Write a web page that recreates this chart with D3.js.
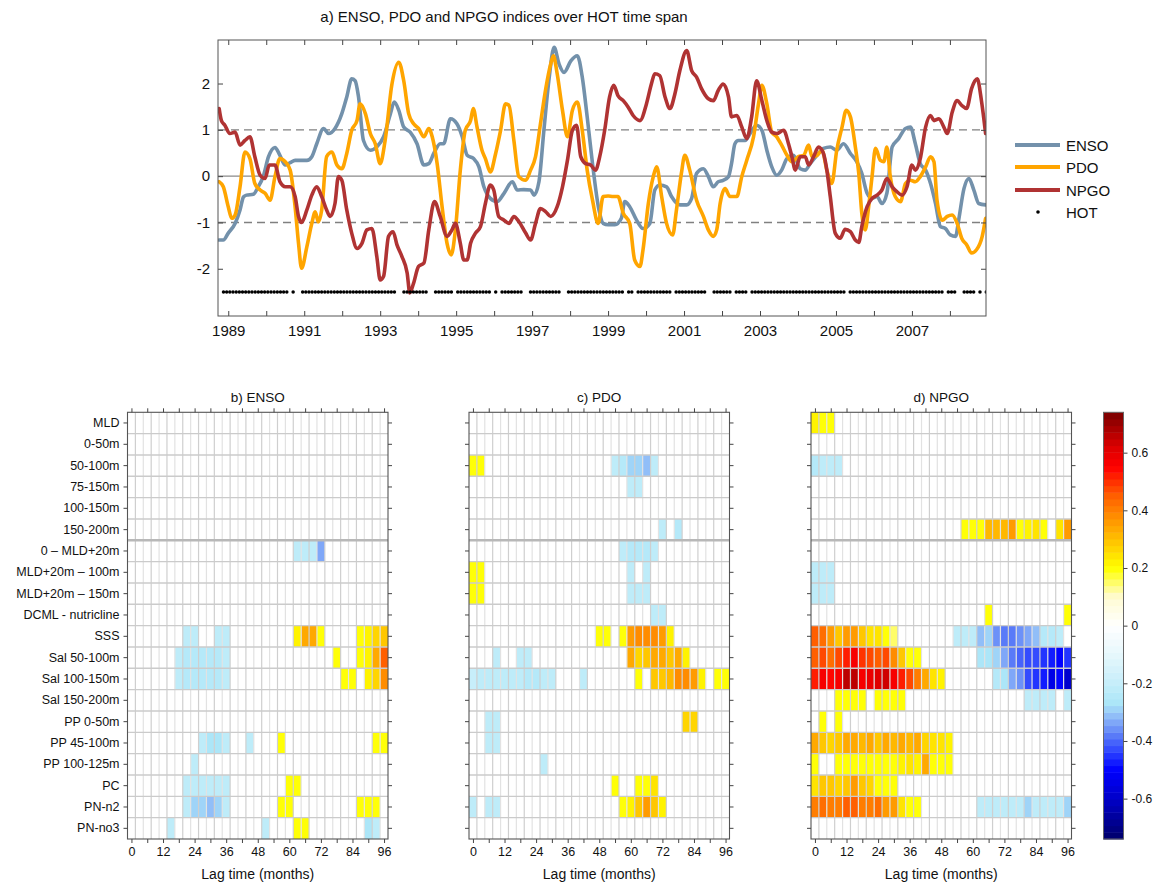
<!DOCTYPE html>
<html>
<head>
<meta charset="utf-8">
<script src="https://cdn.jsdelivr.net/npm/d3@7"></script>
<style>
  body { margin: 0; background: #fff; }
  svg { display: block; font-family: "Liberation Sans", Arial, sans-serif; }
</style>
</head>
<body>
<svg id="fig" width="1156" height="884"></svg>
<script>
// ---------------- climate indices (decimal year, index value) ----------------
const ensoYear = [1988.76,1988.87,1989.00,1989.18,1989.31,1989.40,1989.48,1989.66,1989.79,1989.92,1990.06,1990.23,1990.36,1990.50,1990.63,1990.76,1991.07,1991.20,1991.33,1991.51,1991.64,1991.81,1991.99,1992.12,1992.25,1992.34,1992.43,1992.56,1992.74,1992.91,1993.09,1993.27,1993.37,1993.49,1993.62,1993.79,1993.97,1994.15,1994.28,1994.41,1994.58,1994.67,1994.85,1995.02,1995.16,1995.29,1995.46,1995.60,1995.73,1995.90,1996.08,1996.26,1996.48,1996.61,1996.78,1996.96,1997.05,1997.18,1997.31,1997.44,1997.58,1997.71,1997.84,1998.02,1998.19,1998.32,1998.45,1998.59,1998.76,1998.87,1999.00,1999.18,1999.35,1999.44,1999.57,1999.75,1999.92,2000.10,2000.23,2000.36,2000.54,2000.67,2000.89,2001.07,2001.20,2001.33,2001.51,2001.64,2001.77,2001.90,2002.03,2002.17,2002.25,2002.34,2002.43,2002.61,2002.74,2002.91,2003.05,2003.18,2003.31,2003.44,2003.57,2003.71,2003.88,2004.06,2004.19,2004.32,2004.50,2004.67,2004.85,2005.02,2005.20,2005.38,2005.55,2005.68,2005.82,2005.95,2006.08,2006.21,2006.34,2006.48,2006.65,2006.83,2006.96,2007.09,2007.22,2007.36,2007.49,2007.62,2007.75,2007.88,2008.01,2008.15,2008.23,2008.37,2008.50,2008.63,2008.76,2008.94];
const ensoValue = [-1.38,-1.38,-1.23,-1.02,-0.73,-0.45,-0.41,-0.39,-0.23,-0.01,0.42,0.62,0.45,0.24,0.29,0.34,0.34,0.42,0.70,1.03,0.92,1.03,1.35,1.71,2.10,2.06,1.71,0.77,0.56,0.63,0.85,1.35,1.60,1.42,1.06,0.95,0.70,0.24,0.27,0.49,0.70,0.70,1.24,1.13,0.85,0.45,0.38,0.20,-0.23,-0.48,-0.55,-0.37,-0.12,-0.30,-0.29,-0.30,-0.41,-0.12,0.99,2.06,2.78,2.42,2.24,2.49,2.60,2.14,1.28,0.27,-0.73,-1.02,-1.05,-1.05,-0.91,-0.55,-0.66,-0.95,-1.13,-1.02,-0.30,-0.19,-0.23,-0.44,-0.62,-0.62,-0.48,0.06,0.16,-0.01,-0.23,-0.12,-0.09,-0.01,0.27,0.70,0.77,0.77,0.92,1.10,0.99,0.56,0.20,0.02,0.13,0.38,0.45,0.16,0.13,0.27,0.45,0.60,0.63,0.56,0.70,0.49,0.31,0.06,-0.37,-0.48,-0.44,-0.59,-0.37,0.63,0.81,1.03,1.06,0.70,0.27,0.13,-0.16,-0.59,-1.09,-1.13,-1.27,-1.30,-0.95,-0.27,-0.05,-0.30,-0.59,-0.62];

const pdoYear = [1988.76,1988.87,1989.00,1989.09,1989.18,1989.31,1989.44,1989.57,1989.70,1989.84,1989.97,1990.10,1990.23,1990.36,1990.50,1990.63,1990.76,1990.85,1990.93,1991.07,1991.20,1991.29,1991.37,1991.46,1991.59,1991.73,1991.86,1991.99,1992.12,1992.25,1992.39,1992.47,1992.61,1992.74,1992.87,1993.00,1993.13,1993.31,1993.49,1993.62,1993.75,1993.88,1994.01,1994.15,1994.28,1994.37,1994.50,1994.63,1994.76,1994.87,1994.98,1995.11,1995.24,1995.38,1995.45,1995.55,1995.68,1995.77,1995.90,1996.04,1996.17,1996.30,1996.39,1996.52,1996.65,1996.83,1996.96,1997.09,1997.22,1997.36,1997.49,1997.56,1997.66,1997.80,1997.93,1998.06,1998.19,1998.32,1998.45,1998.59,1998.74,1998.87,1999.00,1999.13,1999.26,1999.40,1999.57,1999.70,1999.84,1999.92,2000.06,2000.19,2000.28,2000.41,2000.54,2000.70,2000.80,2000.93,2001.02,2001.15,2001.33,2001.51,2001.64,2001.77,2001.86,2001.95,2002.08,2002.21,2002.39,2002.52,2002.65,2002.83,2002.96,2003.05,2003.18,2003.31,2003.44,2003.57,2003.71,2003.84,2004.01,2004.15,2004.28,2004.37,2004.50,2004.63,2004.76,2004.89,2005.02,2005.16,2005.27,2005.38,2005.51,2005.60,2005.68,2005.77,2005.86,2005.95,2006.04,2006.17,2006.26,2006.34,2006.43,2006.56,2006.70,2006.83,2006.96,2007.09,2007.22,2007.36,2007.49,2007.58,2007.66,2007.80,2007.93,2008.06,2008.19,2008.31,2008.44,2008.57,2008.70,2008.85,2008.94];
const pdoValue = [-0.12,-0.23,-0.66,-0.91,-0.84,-0.23,0.52,0.38,-0.16,-0.30,-0.37,-0.52,-0.01,0.38,0.31,0.13,-0.66,-1.45,-1.99,-1.52,-1.02,-0.77,-0.99,-0.73,0.42,0.52,0.24,0.16,0.49,0.99,1.20,1.56,1.35,0.92,0.70,0.27,0.77,1.99,2.46,2.06,1.35,1.13,1.03,0.85,1.03,0.85,0.27,-0.66,-1.45,-1.70,-1.16,0.13,0.99,1.20,1.46,1.06,0.56,0.38,0.09,0.49,0.99,1.56,1.53,0.77,-0.01,-0.09,0.13,0.42,1.13,1.89,2.42,2.60,2.21,1.42,0.85,1.42,1.60,0.99,0.13,-0.52,-1.02,-0.44,-0.43,-0.44,-0.44,-0.80,-1.02,-1.81,-1.95,-1.59,-0.59,-0.01,0.20,-0.44,-1.02,-1.27,-0.73,0.06,0.45,0.13,-0.52,-0.87,-1.16,-1.30,-1.16,-0.59,-0.27,-0.44,-0.44,-0.01,0.34,0.85,1.56,1.96,1.56,0.95,0.85,0.67,0.45,0.31,0.42,0.45,0.67,0.42,0.45,0.56,0.13,-0.16,0.56,1.06,1.42,1.28,0.63,0.06,-0.80,-1.16,-0.66,-0.01,0.60,0.34,0.31,0.63,-0.01,-0.44,-0.55,-0.16,-0.09,-0.12,-0.01,0.20,0.42,0.31,-0.52,-0.95,-0.87,-0.84,-1.02,-1.34,-1.48,-1.66,-1.59,-1.30,-0.91];

const npgoYear = [1988.76,1988.82,1988.91,1989.04,1989.18,1989.31,1989.44,1989.57,1989.70,1989.84,1989.97,1990.08,1990.23,1990.36,1990.50,1990.63,1990.76,1990.85,1990.93,1991.07,1991.20,1991.33,1991.46,1991.59,1991.68,1991.81,1991.90,1991.99,1992.12,1992.25,1992.39,1992.52,1992.65,1992.78,1992.91,1993.00,1993.09,1993.22,1993.34,1993.44,1993.57,1993.71,1993.78,1993.88,1994.01,1994.15,1994.28,1994.43,1994.58,1994.76,1994.89,1994.98,1995.11,1995.20,1995.29,1995.38,1995.51,1995.64,1995.77,1995.90,1995.99,1996.12,1996.26,1996.39,1996.52,1996.65,1996.83,1996.96,1997.09,1997.22,1997.36,1997.49,1997.66,1997.80,1997.93,1998.06,1998.17,1998.28,1998.41,1998.54,1998.67,1998.78,1998.91,1999.04,1999.15,1999.26,1999.40,1999.53,1999.66,1999.84,2000.01,2000.14,2000.23,2000.36,2000.50,2000.63,2000.76,2000.89,2001.07,2001.20,2001.33,2001.46,2001.64,2001.77,2001.90,2002.03,2002.17,2002.25,2002.39,2002.52,2002.65,2002.78,2002.91,2003.05,2003.18,2003.31,2003.44,2003.62,2003.75,2003.84,2003.93,2004.06,2004.19,2004.28,2004.41,2004.54,2004.67,2004.76,2004.85,2004.98,2005.11,2005.24,2005.38,2005.51,2005.60,2005.68,2005.82,2005.95,2006.08,2006.21,2006.34,2006.48,2006.61,2006.74,2006.87,2007.00,2007.09,2007.22,2007.36,2007.49,2007.58,2007.71,2007.84,2007.93,2008.06,2008.19,2008.31,2008.44,2008.57,2008.72,2008.83,2008.94];
const npgoValue = [1.46,1.20,1.10,0.92,0.95,0.67,0.77,0.85,0.42,0.02,-0.05,0.24,0.24,-0.12,-0.23,-0.23,-0.44,-0.87,-1.00,-0.73,-0.41,-0.23,-0.44,-0.73,-0.87,-0.59,-0.01,-0.09,-0.73,-1.23,-1.56,-1.45,-1.16,-1.13,-1.73,-2.24,-2.16,-1.30,-1.20,-1.48,-1.73,-2.09,-2.52,-2.31,-1.95,-1.88,-1.16,-0.55,-0.87,-1.30,-1.16,-1.02,-1.45,-1.81,-1.81,-1.45,-1.23,-1.09,-0.59,-0.19,-0.30,-0.87,-0.95,-1.02,-0.87,-0.98,-1.23,-1.38,-1.02,-0.70,-0.77,-0.87,-0.66,-0.23,0.34,0.99,1.10,0.42,0.27,0.24,0.13,0.42,0.99,1.71,1.96,1.74,1.63,1.49,1.31,1.20,1.56,1.99,2.21,2.17,1.71,1.46,1.78,2.28,2.71,2.28,2.14,1.89,1.67,1.63,1.85,1.99,1.71,1.28,1.31,1.06,0.81,1.28,2.06,1.63,1.20,0.95,0.92,0.99,0.70,0.42,0.13,0.42,0.42,0.24,0.42,0.63,0.49,0.13,-0.44,-1.23,-1.34,-1.15,-1.20,-1.38,-1.43,-1.09,-0.66,-0.48,-0.41,-0.30,-0.05,-0.23,-0.34,-0.41,-0.23,0.24,0.13,0.38,1.06,1.31,1.20,1.24,1.06,0.92,1.38,1.63,1.53,1.46,1.89,2.10,1.63,0.92];

// HOT cruise months, as runs of consecutive monthly cruises [first, last]
const hotRuns = [
  ["1988-11","1989-03"],["1989-04","1989-11"],["1989-12","1990-07"],["1990-09","1990-09"],
  ["1990-12","1990-12"],["1991-01","1991-10"],["1991-11","1992-04"],["1992-05","1993-02"],
  ["1993-03","1993-05"],["1993-08","1993-10"],["1993-11","1994-03"],["1994-06","1994-11"],
  ["1995-01","1995-05"],["1995-06","1995-11"],["1996-01","1996-01"],["1996-03","1996-08"],
  ["1996-09","1996-09"],["1996-12","1997-09"],["1997-12","1999-05"],["1999-07","1999-08"],
  ["1999-10","2000-01"],["2000-02","2000-08"],["2000-10","2001-07"],["2001-10","2002-03"],
  ["2002-05","2002-07"],["2002-08","2002-08"],["2002-10","2003-09"],["2003-10","2005-01"],
  ["2005-02","2005-03"],["2005-05","2007-01"],["2007-02","2007-04"],["2007-05","2007-10"],
  ["2007-12","2008-02"],["2008-05","2008-08"],["2008-10","2008-10"],["2008-12","2008-12"]
];
const hotLevel = -2.5;

const seriesNames = ["ENSO", "PDO", "NPGO"];
const seriesColors = ["#7391ab", "#ffa500", "#b03333"];

// ---------------- lagged correlation maps ----------------
const lagMonths = [0,3,6,9,12,15,18,21,24,27,30,33,36,39,42,45,48,51,54,57,60,63,66,69,72,75,78,81,84,87,90,93,96];
const lagTicks = [0,6,12,18,24,30,36,42,48,54,60,66,72,78,84,90,96];
const rowLabels = ["MLD","0-50m","50-100m","75-150m","100-150m","150-200m","0 \u2013 MLD+20m","MLD+20m \u2013 100m","MLD+20m \u2013 150m","DCML - nutricline","SSS","Sal 50-100m","Sal 100-150m","Sal 150-200m","PP 0-50m","PP 45-100m","PP 100-125m","PC","PN-n2","PN-no3"];

// significant correlations as runs: [row index, first lag index, [r, r, ...]]
const ensoCorr = [
  [6,21,[-0.22,-0.22,-0.22,-0.33]],
  [10,7,[-0.21,-0.21]],[10,11,[-0.21,-0.21]],[10,21,[0.21,0.33,0.33,0.2]],[10,29,[0.2,0.21,0.27,0.29]],
  [11,6,[-0.22,-0.24,-0.24,-0.24,-0.24,-0.24,-0.22]],[11,26,[0.2]],[11,29,[0.2,0.21,0.33,0.45]],
  [12,6,[-0.22,-0.24,-0.24,-0.24,-0.24,-0.24,-0.22]],[12,27,[0.2,0.2]],[12,30,[0.21,0.27,0.38]],
  [15,9,[-0.22,-0.26,-0.26,-0.22]],[15,15,[-0.22]],[15,19,[0.2]],[15,31,[0.2,0.2]],
  [16,8,[-0.22]],
  [17,7,[-0.22,-0.23,-0.23,-0.23,-0.23,-0.22]],[17,20,[0.2,0.2]],
  [18,7,[-0.22,-0.28,-0.29,-0.31,-0.28,-0.22]],[18,19,[0.2,0.2]],[18,29,[0.2,0.2,0.2]],
  [19,5,[-0.22]],[19,17,[-0.23]],[19,21,[0.2,0.2]],[19,30,[-0.26,-0.22]]
];
const pdoCorr = [
  [2,0,[0.2,0.2]],[2,18,[-0.23,-0.25,-0.29,-0.29,-0.32,-0.22]],
  [3,20,[-0.22,-0.22]],
  [5,24,[-0.22]],[5,26,[-0.24]],
  [6,19,[-0.21,-0.24,-0.25,-0.25,-0.23]],
  [7,0,[0.2,0.2]],[7,20,[-0.22]],[7,22,[-0.22]],
  [8,0,[0.2,0.2]],[8,20,[-0.22,-0.22,-0.22]],
  [9,23,[-0.22,-0.22]],
  [10,16,[0.2,0.2]],[10,19,[0.2,0.37,0.38,0.39,0.39,0.35,0.21]],
  [11,3,[-0.22]],[11,6,[-0.22,-0.22]],[11,20,[0.33,0.27,0.3,0.34,0.34,0.3,0.33,0.23]],
  [12,0,[-0.2,-0.22,-0.22,-0.23,-0.23,-0.23,-0.23,-0.25,-0.25,-0.23,-0.22]],[12,14,[-0.23]],[12,21,[0.2]],
  [12,23,[0.3,0.3,0.32,0.38,0.38,0.35,0.21]],[12,31,[0.2,0.2]],
  [14,2,[-0.22,-0.22]],[14,27,[0.26,0.26]],
  [15,2,[-0.22,-0.22]],
  [16,9,[-0.22]],
  [17,18,[0.2]],[17,21,[0.2,0.2,0.24]],
  [18,0,[-0.22]],[18,2,[-0.22,-0.22]],[18,19,[0.2,0.21,0.3,0.37,0.3,0.21]]
];
const npgoCorr = [
  [0,0,[0.23,0.19,0.19]],
  [2,0,[-0.24,-0.22,-0.22,-0.22]],
  [5,19,[0.2,0.2,0.2,0.32,0.32,0.32,0.35,0.2,0.21,0.24,0.2]],[5,31,[0.25,0.35]],
  [7,0,[-0.22,-0.22,-0.22]],
  [8,0,[-0.22,-0.22,-0.22]],
  [9,22,[0.2]],[9,32,[0.2]],
  [10,0,[0.44,0.42,0.35,0.3,0.37,0.37,0.3,0.24,0.24,0.2,0.16]],
  [10,18,[-0.22,-0.22,-0.22,-0.32,-0.3,-0.36,-0.39,-0.39,-0.37,-0.34,-0.32,-0.24,-0.24,-0.22]],
  [11,0,[0.44,0.47,0.42,0.47,0.53,0.56,0.5,0.48,0.44,0.47,0.38,0.28,0.2,0.19]],
  [11,21,[-0.26,-0.27,-0.3,-0.34,-0.38,-0.4,-0.43,-0.43,-0.45,-0.47,-0.5,-0.45]],
  [12,0,[0.52,0.56,0.54,0.56,0.65,0.65,0.56,0.6,0.61,0.63,0.56,0.52,0.47,0.4,0.34,0.25,0.22]],
  [12,23,[-0.24,-0.26,-0.33,-0.35,-0.42,-0.44,-0.48,-0.55,-0.5,-0.58]],
  [13,3,[0.2,0.2,0.2,0.2]],[13,8,[0.2,0.2,0.2,0.2]],[13,27,[-0.23,-0.23,-0.23,-0.23]],[13,32,[-0.23]],
  [14,1,[0.2]],[14,3,[0.2]],
  [15,0,[0.34,0.3,0.27,0.3,0.34,0.34,0.32,0.34,0.3,0.34,0.32,0.34,0.32,0.34,0.27,0.24,0.24,0.22]],
  [16,0,[0.2]],[16,3,[0.2,0.2,0.2,0.2,0.2,0.2,0.2,0.2,0.22,0.25,0.22,0.33,0.2,0.2,0.2]],
  [17,0,[0.24,0.29,0.29,0.27,0.29,0.35,0.29,0.27,0.2,0.2,0.19]],
  [18,0,[0.4,0.42,0.4,0.4,0.44,0.44,0.4,0.4,0.42,0.35,0.37,0.24,0.2,0.2]],
  [18,21,[-0.22,-0.22,-0.22,-0.22,-0.22,-0.22,-0.28,-0.22,-0.22,-0.22,-0.22,-0.3]]
];

// colour map
const colorStops  = [-0.74,-0.6,-0.5,-0.44,-0.38,-0.32,-0.27,-0.2,-0.1,0,0.1,0.2,0.3,0.4,0.45,0.5,0.55,0.62,0.74];
const colorValues = ["#00006a","#0000c8","#0000ff","#2a40ff","#5a7cf8","#8cb6f8","#aae6f8","#c6eefa","#e6f7fc","#ffffff","#fffbd2","#ffff00","#ffc000","#ff8000","#ff6000","#ff3000","#ff0000","#dc0000","#7a0000"];
const colorTicks = [-0.6,-0.4,-0.2,0,0.2,0.4,0.6];
const colorLimit = 0.74;
const colorLevels = 64;

// ---------------- drawing ----------------
const svg = d3.select("#fig");
const FONT = "'Liberation Sans', Arial, sans-serif";

const cmapCont = d3.scaleLinear().domain(colorStops).range(colorValues).clamp(true);
const levelStep = 2 * colorLimit / colorLevels;
function levelColor(v) {
  let k = Math.floor((v + colorLimit) / levelStep);
  k = Math.max(0, Math.min(colorLevels - 1, k));
  return cmapCont(-colorLimit + (k + 0.5) * levelStep);
}

// ===== panel a: index time series =====
const A = { left: 218, right: 986, top: 40, bottom: 316 };
const xA = d3.scaleLinear().domain([1988.73, 2008.95]).range([A.left, A.right]);
const yA = d3.scaleLinear().domain([-3.02, 2.94]).range([A.bottom, A.top]);

svg.append("defs").append("clipPath").attr("id", "clipA")
  .append("rect").attr("x", A.left).attr("y", A.top)
  .attr("width", A.right - A.left).attr("height", A.bottom - A.top);

const gA = svg.append("g");
gA.append("text").attr("x", 504).attr("y", 22).attr("text-anchor", "middle")
  .attr("font-size", 15).attr("fill", "#111")
  .text("a) ENSO, PDO and NPGO indices over HOT time span");

// reference lines
gA.append("line").attr("x1", A.left).attr("x2", A.right)
  .attr("y1", yA(0)).attr("y2", yA(0)).attr("stroke", "#8a8a8a").attr("stroke-width", 1.4);
[-1, 1].forEach(v => {
  gA.append("line").attr("x1", A.left).attr("x2", A.right)
    .attr("y1", yA(v)).attr("y2", yA(v)).attr("stroke", "#808080")
    .attr("stroke-width", 1.4).attr("stroke-dasharray", "8,5");
});

// index curves
const seriesData = [
  ensoYear.map((t, i) => [t, ensoValue[i]]),
  pdoYear.map((t, i) => [t, pdoValue[i]]),
  npgoYear.map((t, i) => [t, npgoValue[i]])
];
const lineA = d3.line().x(d => xA(d[0])).y(d => yA(d[1])).curve(d3.curveMonotoneX);
const gLines = gA.append("g").attr("clip-path", "url(#clipA)");
seriesData.forEach((s, i) => {
  gLines.append("path").datum(s).attr("d", lineA).attr("fill", "none")
    .attr("stroke", seriesColors[i]).attr("stroke-width", 3.6)
    .attr("stroke-linejoin", "round").attr("stroke-linecap", "round");
});

// HOT cruises
const hotTimes = [];
hotRuns.forEach(([a, b]) => {
  const [ya, ma] = a.split("-").map(Number);
  const [yb, mb] = b.split("-").map(Number);
  for (let m = ya * 12 + ma - 1; m <= yb * 12 + mb - 1; m++) {
    hotTimes.push(Math.floor(m / 12) + ((m % 12) + 0.5) / 12);
  }
});
gLines.append("g").selectAll("circle").data(hotTimes).join("circle")
  .attr("cx", d => xA(d)).attr("cy", yA(hotLevel)).attr("r", 1.75).attr("fill", "#000");

// axes
const years = d3.range(1989, 2009);
function styleAxis(g) {
  g.select(".domain").remove();
  g.selectAll(".tick line").attr("stroke", "#444");
  g.selectAll(".tick text").attr("fill", "#111").attr("font-family", FONT);
}
gA.append("g").attr("transform", `translate(0,${A.bottom})`)
  .call(d3.axisBottom(xA).tickValues(years).tickSize(-5).tickPadding(9)
    .tickFormat(d => (d % 2 === 1 ? String(d) : "")))
  .call(styleAxis).selectAll("text").attr("font-size", 15);
gA.append("g").attr("transform", `translate(0,${A.top})`)
  .call(d3.axisTop(xA).tickValues(years).tickSize(-5).tickFormat(""))
  .call(styleAxis);
gA.append("g").attr("transform", `translate(${A.left},0)`)
  .call(d3.axisLeft(yA).tickValues([-2, -1, 0, 1, 2]).tickSize(-5).tickPadding(8)
    .tickFormat(d => String(d)))
  .call(styleAxis).selectAll("text").attr("font-size", 15);
gA.append("g").attr("transform", `translate(${A.right},0)`)
  .call(d3.axisRight(yA).tickValues([-2, -1, 0, 1, 2]).tickSize(-5).tickFormat(""))
  .call(styleAxis);
gA.append("rect").attr("x", A.left).attr("y", A.top)
  .attr("width", A.right - A.left).attr("height", A.bottom - A.top)
  .attr("fill", "none").attr("stroke", "#555").attr("stroke-width", 1);

// legend
const legendY = [145, 167, 190];
seriesNames.forEach((name, i) => {
  gA.append("line").attr("x1", 1015).attr("x2", 1060)
    .attr("y1", legendY[i]).attr("y2", legendY[i])
    .attr("stroke", seriesColors[i]).attr("stroke-width", 4);
  gA.append("text").attr("x", 1066).attr("y", legendY[i] + 5.5)
    .attr("font-size", 15).attr("fill", "#111").text(name);
});
gA.append("circle").attr("cx", 1038).attr("cy", 212).attr("r", 1.8).attr("fill", "#000");
gA.append("text").attr("x", 1066).attr("y", 217.5).attr("font-size", 15).attr("fill", "#111").text("HOT");

// ===== panels b-d: lagged correlation maps =====
const H = { top: 412.3, bottom: 839, width: 260.5 };
const yRow = d3.scaleBand().domain(rowLabels).range([H.top, H.bottom]);
const panels = [
  { title: "b) ENSO", left: 127.5, data: ensoCorr, labels: true },
  { title: "c) PDO",  left: 469,   data: pdoCorr,  labels: false },
  { title: "d) NPGO", left: 811,   data: npgoCorr, labels: false }
];

panels.forEach(p => {
  const xL = d3.scaleLinear().domain([-1.5, 97.5]).range([p.left, p.left + H.width]);
  const g = svg.append("g");

  // cells
  const cells = [];
  p.data.forEach(([r, c0, vals]) => vals.forEach((v, i) => cells.push({ row: rowLabels[r], lag: lagMonths[c0 + i], r: v })));
  g.append("g").selectAll("rect").data(cells).join("rect")
    .attr("x", d => xL(d.lag - 1.5)).attr("y", d => yRow(d.row))
    .attr("width", d => xL(d.lag + 1.5) - xL(d.lag - 1.5)).attr("height", yRow.bandwidth())
    .attr("fill", d => levelColor(d.r));

  // grid
  lagMonths.slice(1).forEach((lag, i) => {
    g.append("line").attr("x1", xL(lag - 1.5)).attr("x2", xL(lag - 1.5))
      .attr("y1", H.top).attr("y2", H.bottom)
      .attr("stroke", i % 2 === 0 ? "#cfcfcf" : "#e2e2e2").attr("stroke-width", 1.2);
  });
  rowLabels.slice(1).forEach((lab, i) => {
    const thick = (i === 5);
    g.append("line").attr("x1", p.left).attr("x2", p.left + H.width)
      .attr("y1", yRow(lab)).attr("y2", yRow(lab))
      .attr("stroke", thick ? "#b8b8b8" : "#cbcbcb").attr("stroke-width", thick ? 2.6 : 1.4);
  });
  g.append("rect").attr("x", p.left).attr("y", H.top)
    .attr("width", H.width).attr("height", H.bottom - H.top)
    .attr("fill", "none").attr("stroke", "#555").attr("stroke-width", 1.1);

  // axes
  const rowAxis = d3.axisLeft(yRow).tickSize(4).tickPadding(4);
  if (!p.labels) rowAxis.tickFormat("");
  g.append("g").attr("transform", `translate(${p.left},0)`).call(rowAxis)
    .call(styleAxis).selectAll("text").attr("font-size", 12.5);
  g.append("g").attr("transform", `translate(${p.left + H.width},0)`)
    .call(d3.axisRight(yRow).tickSize(4).tickFormat("")).call(styleAxis);
  g.append("g").attr("transform", `translate(0,${H.bottom})`)
    .call(d3.axisBottom(xL).tickValues(lagTicks).tickSize(4).tickPadding(4)
      .tickFormat(d => (d % 12 === 0 ? String(d) : "")))
    .call(styleAxis).selectAll("text").attr("font-size", 12.5);
  g.append("g").attr("transform", `translate(0,${H.top})`)
    .call(d3.axisTop(xL).tickValues(lagTicks).tickSize(4).tickFormat("")).call(styleAxis);

  g.append("text").attr("x", p.left + H.width / 2).attr("y", 401.5)
    .attr("text-anchor", "middle").attr("font-size", 13.5).attr("fill", "#111").text(p.title);
  g.append("text").attr("x", p.left + H.width / 2).attr("y", 879)
    .attr("text-anchor", "middle").attr("font-size", 14).attr("fill", "#111").text("Lag time (months)");
});

// ===== colour bar =====
const CB = { left: 1103.5, width: 20 };
const yCB = d3.scaleLinear().domain([-colorLimit, colorLimit]).range([H.bottom, H.top]);
const gCB = svg.append("g");
gCB.selectAll("rect.band").data(d3.range(colorLevels)).join("rect").attr("class", "band")
  .attr("x", CB.left).attr("width", CB.width)
  .attr("y", k => yCB(-colorLimit + (k + 1) * levelStep))
  .attr("height", k => yCB(-colorLimit + k * levelStep) - yCB(-colorLimit + (k + 1) * levelStep) + 0.5)
  .attr("fill", k => levelColor(-colorLimit + (k + 0.5) * levelStep));
gCB.append("rect").attr("x", CB.left).attr("y", H.top).attr("width", CB.width)
  .attr("height", H.bottom - H.top).attr("fill", "none").attr("stroke", "#666").attr("stroke-width", 1);
gCB.append("g").attr("transform", `translate(${CB.left + CB.width},0)`)
  .call(d3.axisRight(yCB).tickValues(colorTicks).tickSize(4).tickPadding(4)
    .tickFormat(d => String(d)))
  .call(styleAxis).selectAll("text").attr("font-size", 12);
</script>
</body>
</html>
